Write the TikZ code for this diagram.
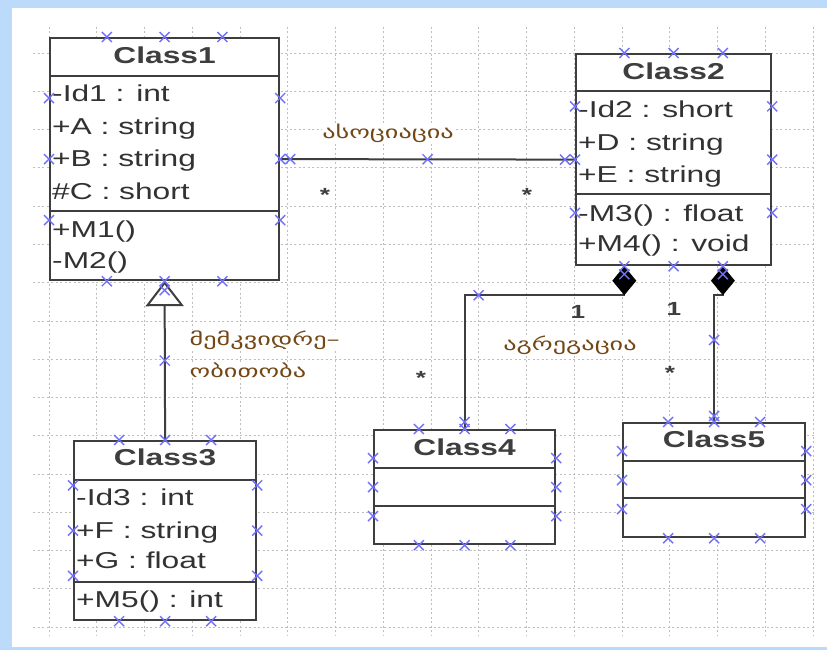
\documentclass[tikz,border=0pt]{standalone}
\usepackage{fontspec}
\setmainfont{Liberation Sans}[FakeStretch=1.38]
\newfontfamily\geofont{DejaVu Sans}[FakeStretch=1.5]
\usetikzlibrary{arrows.meta,calc,positioning}
\definecolor{FrameBlue}{RGB}{188,218,250}
\definecolor{GridGray}{RGB}{190,190,190}
\definecolor{BoxGray}{RGB}{62,62,62}
\definecolor{MarkBlue}{RGB}{112,112,250}
\definecolor{LabelBrown}{RGB}{115,72,22}

\begin{document}
\begin{tikzpicture}[x=1pt,y=-1pt,>=Latex,
  classbox/.style={draw=BoxGray,fill=white,line width=2.2pt,anchor=north west,inner sep=0pt},
  title/.style={font=\fontsize{23}{26}\selectfont\bfseries,text=BoxGray,anchor=base,inner sep=0pt},
  member/.style={font=\fontsize{23}{26}\selectfont,text=BoxGray!80!black,anchor=base west,inner sep=0pt},
  conn/.style={draw=BoxGray,line width=2pt},
  geolabel/.style={font=\geofont\fontsize{17.5}{19}\selectfont,text=LabelBrown,fill=white,inner sep=0.5pt,anchor=base},
  mult/.style={font=\fontsize{19}{20}\selectfont\bfseries,text=BoxGray,anchor=base,inner sep=0pt},
  multstar/.style={font=\fontsize{19}{20}\selectfont\bfseries,text=BoxGray,anchor=base,inner sep=0pt},
  grid line/.style={GridGray,line width=0.7pt,dash pattern=on 2pt off 2.5pt},
  selx/.pic={\draw[MarkBlue,line width=1.4pt] (-5,-5)--(5,5) (-5,5)--(5,-5);}
]
  \useasboundingbox (0,0) rectangle (827,650);
  \fill[FrameBlue] (0,0) rectangle (827,650);
  \fill[white] (12,8) rectangle (827,647);
  \foreach \i in {0,...,16}
    \draw[grid line] ({49+47.75*\i},27) -- ({49+47.75*\i},635);
  \foreach \j in {0,...,15}
    \draw[grid line] (33,{53+38.27*\j}) -- (815,{53+38.27*\j});

  \node[classbox,minimum width=229pt,minimum height=242pt] (c1) at (49,37) {};
  \node[classbox,minimum width=195pt,minimum height=211pt] (c2) at (575,53) {};
  \node[classbox,minimum width=182pt,minimum height=179pt] (c3) at (73,440) {};
  \node[classbox,minimum width=181pt,minimum height=114pt] (c4) at (373,429) {};
  \node[classbox,minimum width=182pt,minimum height=114pt] (c5) at (622,422) {};
  \foreach \c/\d in {c1/39,c1/174,c2/38,c2/141,c3/40,c3/142,c4/39,c4/77,c5/39,c5/76}
    \draw[BoxGray,line width=2.2pt] ($(\c.north west)+(0,\d)$) -- ($(\c.north east)+(0,\d)$);
  \foreach \c/\n/\d in {c1/1/27,c2/2/27,c3/3/25,c4/4/26,c5/5/25}
    \node[title] (\c-title) at ($(\c.north)+(0,\d)$) {Class\n};
  \foreach \n/\x/\y/\txt in {
      c1a/52/102/{-Id1 : int},c1b/52/135/{+A : string},c1c/52/167/{+B : string},
      c1d/52/199/{\#C : short},c1e/52/237/{+M1()},c1f/52/268/{-M2()},
      c2a/578/118/{-Id2 : short},c2b/578/150/{+D : string},c2c/578/182/{+E : string},
      c2d/578/221/{-M3() : float},c2e/578/251/{+M4() : void},
      c3a/76/505/{-Id3 : int},c3b/76/538/{+F : string},c3c/76/568/{+G : float},
      c3d/76/607/{+M5() : int}}
    \node[member] (\n) at (\x,\y) {\txt};

  \coordinate (c2q1) at ($(c2.south west)!0.25!(c2.south east)$);
  \coordinate (c2q3) at ($(c2.south west)!0.75!(c2.south east)$);
  \draw[conn] (c1.east) -- (c2.west);
  \draw[conn,-{Triangle[length=25pt,width=38pt,fill=white]}] (c3.north) -- (c1.south);
  \draw[conn,-{Diamond[length=29pt,width=24pt,fill=black,color=black]}]
    (c4.north) |- ($(c2q1)+(0,29)$) -- (c2q1);
  \draw[conn,-{Diamond[length=29pt,width=24pt,fill=black,color=black]}]
    (c5.north) |- ($(c2q3)+(0,29)$) -- (c2q3);

  \node[geolabel] (assoc) at (388,139) {ასოციაცია};
  \node[geolabel,anchor=base west] (inh1) at (189,345) {მემკვიდრე–};
  \node[geolabel,anchor=base west] (inh2) at (189,377) {ობითობა};
  \node[geolabel] (aggr) at (570,350) {აგრეგაცია};
  \node[mult] (m1) at (578,318) {1};
  \node[mult] (m2) at (674,315) {1};
  \foreach \n/\x/\y in {s1/325/201,s2/527/201,s3/421/384,s4/670/379}
    \node[multstar] (\n) at (\x,\y) {*};

  \foreach \c in {c1,c2,c3,c4,c5}
    \foreach \f in {0.25,0.5,0.75} {
      \pic at ($(\c.north west)!\f!(\c.north east)$) {selx};
      \pic at ($(\c.south west)!\f!(\c.south east)$) {selx};
      \pic at ($(\c.north west)!\f!(\c.south west)$) {selx};
      \pic at ($(\c.north east)!\f!(\c.south east)$) {selx};
    }
  \pic at ($(c1.east)+(10,0)$) {selx};
  \pic at ($(c2.west)+(-10,0)$) {selx};
  \pic at ($(c1.east)!0.5!(c2.west)$) {selx};
  \pic at ($(c1.south)+(0,9)$) {selx};
  \pic at ($(c1.south)!0.5!(c3.north)$) {selx};
  \pic at ($(c2q1)+(0,8)$) {selx};
  \pic at ($(c4.north |- c2q1)+(14,29)$) {selx};
  \pic at ($(c4.north)+(0,-7)$) {selx};
  \pic at ($(c2q3)+(0,8)$) {selx};
  \pic at ($(c5.north)+(0,-82)$) {selx};
  \pic at ($(c5.north)+(0,-6)$) {selx};
\end{tikzpicture}
\end{document}
